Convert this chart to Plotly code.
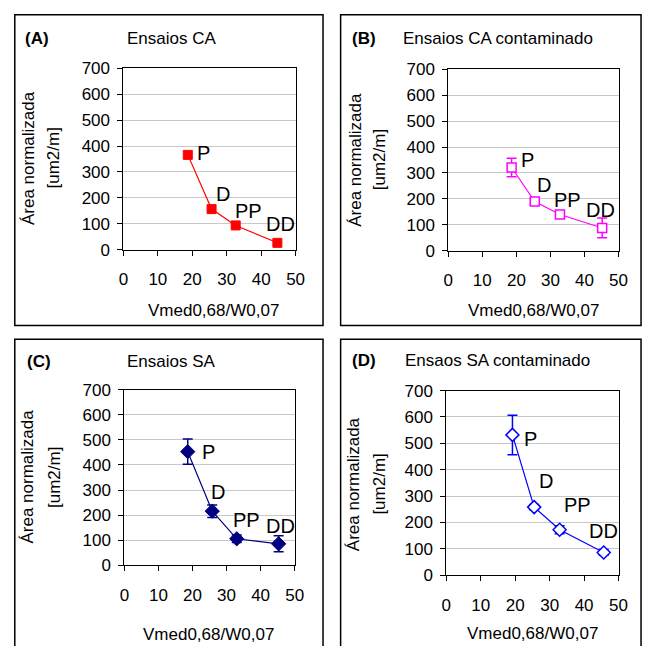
import plotly.graph_objects as go

W, H = 652, 656

# ---------------- data ----------------
labels = ["P", "D", "PP", "DD"]

a_x = [18.7, 25.6, 32.6, 44.7]
a_y = [366, 157, 94, 27]

b_x = [18.6, 25.4, 32.8, 45.2]
b_y = [321, 190, 140, 88]
b_err = [36, 12, 8, 38]

c_x = [18.6, 25.8, 33.0, 45.3]
c_y = [453, 216, 106, 86]
c_err = [50, 25, 15, 32]

d_x = [19.2, 25.5, 32.9, 45.7]
d_y = [532, 258, 172, 86]
d_err = [75, 10, 15, 11]

panel_letters = ["(A)", "(B)", "(C)", "(D)"]
panel_titles = ["Ensaios CA", "Ensaios CA contaminado", "Ensaios SA", "Ensaos SA contaminado"]
x_title = "Vmed0,68/W0,07"
y_title_1 = "Área normalizada"
y_title_2 = "[um2/m]"

FONT = "Liberation Sans, Arial, sans-serif"


def px(x):
    return x / W


def py(y):
    return 1 - y / H


# layout geometry (pixels); box bottom None = runs off the bottom edge
panels = [
    dict(box=(10, 6, 325, 326), xd=(121, 297), yd=(61, 248), letter=(33, 30), title=(170, 30),
         xt=(213, 310), yt1=(24, 153), yt2=(50, 153),
         shifts=[(16, 2), (11, 15), (13, 14), (3, 19)]),
    dict(box=(343, 6, 650, 326), xd=(453, 627), yd=(62, 249), letter=(367, 30), title=(504, 30),
         xt=(540, 311), yt1=(358, 155), yt2=(383, 155),
         shifts=[(16, 8), (9, 17), (8, 14), (-2, 18)]),
    dict(box=(10, 340, 325, None), xd=(122, 296), yd=(392, 573), letter=(35, 363), title=(170, 363),
         xt=(208, 644), yt1=(23, 482), yt2=(50, 482),
         shifts=[(21, 0), (6, 19), (10, 19), (2, 18)]),
    dict(box=(343, 340, 650, None), xd=(451, 627), yd=(393, 583), letter=(367, 362), title=(503, 362),
         xt=(539, 643), yt1=(357, 489), yt2=(383, 489),
         shifts=[(18, -4), (12, 26), (18, 25), (0, 21)]),
]

series = [
    dict(x=a_x, y=a_y, err=None, color="#FF0000",
         marker=dict(symbol="square", size=9, color="#FF0000", line=dict(color="#FF0000", width=1))),
    dict(x=b_x, y=b_y, err=b_err, color="#FF00FF",
         marker=dict(symbol="square", size=9, color="white", line=dict(color="#FF00FF", width=1.5))),
    dict(x=c_x, y=c_y, err=c_err, color="#000080",
         marker=dict(symbol="diamond", size=11, color="#000080", line=dict(color="#000080", width=1))),
    dict(x=d_x, y=d_y, err=d_err, color="#0000FF",
         marker=dict(symbol="diamond", size=10, color="white", line=dict(color="#0000FF", width=1.5))),
]

fig = go.Figure()
annotations = []
shapes = []
layout_axes = {}

for i, (p, s) in enumerate(zip(panels, series)):
    n = "" if i == 0 else str(i + 1)
    xa, ya = "x" + n, "y" + n
    tr = dict(x=s["x"], y=s["y"], mode="lines+markers", xaxis=xa, yaxis=ya,
              line=dict(color=s["color"], width=1.2), marker=s["marker"], showlegend=False,
              cliponaxis=False)
    if s["err"] is not None:
        tr["error_y"] = dict(type="data", array=s["err"], visible=True, color=s["color"],
                             thickness=1.5, width=5)
    fig.add_trace(go.Scatter(**tr))

    common = dict(showline=True, linecolor="black", linewidth=1, mirror=True,
                  ticks="outside", ticklen=5, tickcolor="black", tickwidth=1,
                  tickfont=dict(family=FONT, size=17, color="black"), zeroline=False)
    layout_axes["xaxis" + n] = dict(domain=[px(p["xd"][0]), px(p["xd"][1])], range=[0, 50],
                                   dtick=10, anchor=ya, showgrid=False, ticklabelstandoff=9,
                                   **common)
    layout_axes["yaxis" + n] = dict(domain=[py(p["yd"][1]), py(p["yd"][0])], range=[0, 700],
                                   dtick=100, anchor=xa, showgrid=True, gridcolor="#c8c8c8",
                                   gridwidth=1, ticklabelstandoff=4, **common)

    # panel box
    x0, y0, x1, y1 = p["box"]
    if y1 is not None:
        shapes.append(dict(type="rect", xref="paper", yref="paper", x0=px(x0), x1=px(x1),
                           y0=py(y1), y1=py(y0), line=dict(color="black", width=1.5)))
    else:
        path = "M %.5f,%.5f L %.5f,%.5f L %.5f,%.5f L %.5f,%.5f" % (
            px(x0), 0.0, px(x0), py(y0), px(x1), py(y0), px(x1), 0.0)
        shapes.append(dict(type="path", xref="paper", yref="paper", path=path,
                           line=dict(color="black", width=1.5)))

    def ann(text, pos, size=17, bold=False, angle=0):
        annotations.append(dict(text=("<b>%s</b>" % text) if bold else text, x=px(pos[0]), y=py(pos[1]),
                                xref="paper", yref="paper", showarrow=False, textangle=angle,
                                xanchor="center", yanchor="middle",
                                font=dict(family=FONT, size=size, color="black")))

    ann(panel_letters[i], p["letter"], bold=True)
    ann(panel_titles[i], p["title"])
    ann(x_title, p["xt"])
    ann(y_title_1, p["yt1"], angle=-90)
    ann(y_title_2, p["yt2"], angle=-90)

    for lab, xv, yv, (dx, dy) in zip(labels, s["x"], s["y"], p["shifts"]):
        annotations.append(dict(text=lab, x=xv, y=yv, xref=xa, yref=ya, showarrow=False,
                                xshift=dx, yshift=dy, xanchor="center", yanchor="middle",
                                font=dict(family=FONT, size=20, color="black")))

fig.update_layout(width=W, height=H, margin=dict(l=0, r=0, t=0, b=0),
                  paper_bgcolor="white", plot_bgcolor="white",
                  annotations=annotations, shapes=shapes, **layout_axes)

fig.write_html("out.html", config={"displayModeBar": False},
               post_script="document.body.style.margin='0px';")
